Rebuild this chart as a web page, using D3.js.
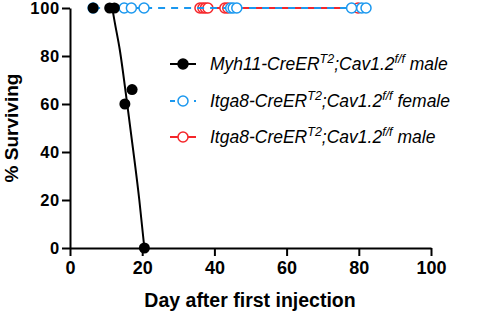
<!DOCTYPE html>
<html lang="en">
<head>
    <meta charset="UTF-8">
    <title>Survival</title>
    <script src="https://cdn.jsdelivr.net/npm/d3@7"></script>
    <style>
        body { margin: 0; background: #fff; }
        svg text { font-family: "Liberation Sans", Arial, sans-serif; }
        .axis path, .axis line { stroke: #000; stroke-width: 2px; }
        .axis text { font-size: 18px; font-weight: bold; fill: #000; }
        .axis.y text { font-size: 16.5px; letter-spacing: 0.7px; }
    </style>
</head>
<body>
    <script>
        //size
        var w = 484;
        var h = 313;

        //data (day, % surviving)
        var myhDays = [6.4, 11, 12.3, 15.2, 17.2, 20.6];
        var myhSurv = [100, 100, 100, 60, 66, 0];
        //fitted curve for the Myh11 group
        var fitDays = [11.7, 12.4, 13.8, 15.7, 17.5, 19.2, 20.6];
        var fitSurv = [100, 94, 82.5, 61.7, 40.8, 20, 0];
        var femDays = [6.4, 15, 17, 20.5, 44.5, 45.2, 46.2, 78, 80.8, 82];
        var femSurv = [100, 100, 100, 100, 100, 100, 100, 100, 100, 100];
        var maleDays = [36, 36.8, 37.5, 38.2, 42.9, 43.7, 79.8];
        var maleSurv = [100, 100, 100, 100, 100, 100, 100];

        var xTicks = [0, 20, 40, 60, 80, 100];
        var yTicks = [0, 20, 40, 60, 80, 100];

        var blue = '#1b98ef';
        var red = '#f5262a';

        function zip(a, b) {
            return a.map(function(d, i) { return [d, b[i]]; });
        }

        //scales
        var xScale = d3.scaleLinear().domain([0, 100]).range([70, 431]);
        var yScale = d3.scaleLinear().domain([0, 100]).range([248, 8]);

        var svg = d3.select('body')
                    .append('svg')
                    .attr('width', w)
                    .attr('height', h);

        var line = d3.line()
                     .x(function(d) { return xScale(d[0]); })
                     .y(function(d) { return yScale(d[1]); });

        //axes
        svg.append('g')
            .attr('class', 'axis x')
            .attr('transform', 'translate(0,' + yScale(0) + ')')
            .call(d3.axisBottom(xScale).tickValues(xTicks).tickSize(8).tickSizeOuter(0).tickPadding(5));

        svg.append('g')
            .attr('class', 'axis y')
            .attr('transform', 'translate(' + xScale(0) + ',0)')
            .call(d3.axisLeft(yScale).tickValues(yTicks).tickSize(8).tickSizeOuter(0).tickPadding(2));

        //male Itga8 (red, solid)
        var maleData = zip(maleDays, maleSurv);
        svg.append('path')
            .datum(maleData)
            .attr('d', line)
            .attr('fill', 'none')
            .attr('stroke', red)
            .attr('stroke-width', 2);
        svg.selectAll('circle.male')
            .data(maleData)
            .enter()
            .append('circle')
            .attr('class', 'male')
            .attr('cx', function(d) { return xScale(d[0]); })
            .attr('cy', function(d) { return yScale(d[1]); })
            .attr('r', 5)
            .attr('fill', '#fff')
            .attr('stroke', red)
            .attr('stroke-width', 1.5);

        //female Itga8 (blue, dashed)
        var femData = zip(femDays, femSurv);
        svg.append('path')
            .datum(femData)
            .attr('d', line)
            .attr('fill', 'none')
            .attr('stroke', blue)
            .attr('stroke-width', 2)
            .attr('stroke-dasharray', '7,6');
        svg.selectAll('circle.fem')
            .data(femData)
            .enter()
            .append('circle')
            .attr('class', 'fem')
            .attr('cx', function(d) { return xScale(d[0]); })
            .attr('cy', function(d) { return yScale(d[1]); })
            .attr('r', 5)
            .attr('fill', '#fff')
            .attr('stroke', blue)
            .attr('stroke-width', 1.5);

        //Myh11 (black, fitted curve)
        svg.append('path')
            .datum(zip(fitDays, fitSurv))
            .attr('d', line.curve(d3.curveMonotoneX))
            .attr('fill', 'none')
            .attr('stroke', '#000')
            .attr('stroke-width', 2);
        svg.selectAll('circle.myh')
            .data(zip(myhDays, myhSurv))
            .enter()
            .append('circle')
            .attr('class', 'myh')
            .attr('cx', function(d) { return xScale(d[0]); })
            .attr('cy', function(d) { return yScale(d[1]); })
            .attr('r', 5.5)
            .attr('fill', '#000');

        //axis titles
        svg.append('text')
            .attr('x', 250)
            .attr('y', 307)
            .attr('text-anchor', 'middle')
            .attr('font-size', '19.5px')
            .attr('font-weight', 'bold')
            .text('Day after first injection');

        svg.append('text')
            .attr('transform', 'translate(18,128) rotate(-90)')
            .attr('text-anchor', 'middle')
            .attr('font-size', '19px')
            .attr('font-weight', 'bold')
            .text('% Surviving');

        //legend
        var legend = [
            { gene: 'Myh11', sex: 'male', color: '#000', dash: null, fill: '#000', y: 64 },
            { gene: 'Itga8', sex: 'female', color: blue, dash: '5,7', fill: '#fff', y: 101 },
            { gene: 'Itga8', sex: 'male', color: red, dash: null, fill: '#fff', y: 137 }
        ];
        var lg = svg.selectAll('g.legend')
            .data(legend)
            .enter()
            .append('g')
            .attr('class', 'legend')
            .attr('transform', function(d) { return 'translate(0,' + d.y + ')'; });
        lg.append('line')
            .attr('x1', 170).attr('x2', 196)
            .attr('stroke', function(d) { return d.color; })
            .attr('stroke-width', 2)
            .attr('stroke-dasharray', function(d) { return d.dash; });
        lg.append('circle')
            .attr('cx', 183)
            .attr('r', 5)
            .attr('fill', function(d) { return d.fill; })
            .attr('stroke', function(d) { return d.color; })
            .attr('stroke-width', 1.5);
        var t = lg.append('text')
            .attr('x', 210)
            .attr('y', 6)
            .attr('font-size', '17.5px')
            .attr('font-style', 'italic');
        t.append('tspan').text(function(d) { return d.gene + '-CreER'; });
        t.append('tspan').attr('dy', -7).attr('font-size', '12.5px').text('T2');
        t.append('tspan').attr('dy', 7).text(';Cav1.2');
        t.append('tspan').attr('dy', -7).attr('font-size', '12.5px').text('f/f');
        t.append('tspan').attr('dy', 7).text(function(d) { return ' ' + d.sex; });
    </script>
</body>
</html>
